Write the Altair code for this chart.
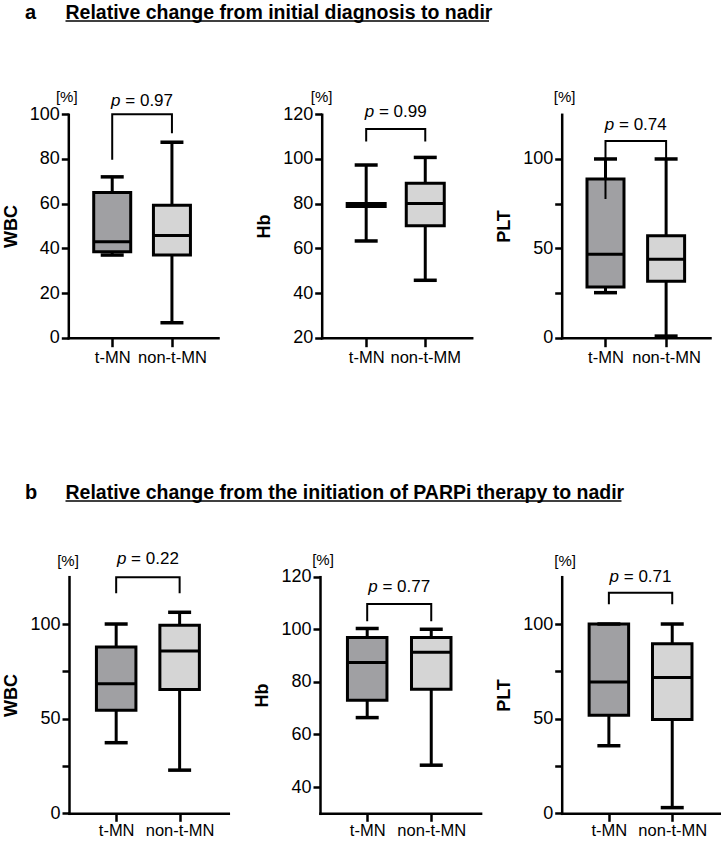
import altair as alt
import pandas as pd

# Category labels per panel
labels_std = ["t-MN", "non-t-MN"]
labels_hb_a = ["t-MN", "non-t-MM"]

# Box-plot summaries: [whisker low, Q1, median, Q3, whisker high]; first row t-MN, second non-t-MN
a_wbc = [[37.0, 38.5, 43.0, 65.0, 72.0], [6.7, 37.0, 45.8, 59.3, 87.5]]
a_hb = [[63.3, 78.7, 79.4, 80.1, 97.3], [45.7, 70.1, 80.1, 89.1, 100.7]]
a_plt = [[25.2, 28.4, 46.7, 88.8, 100.0], [0.9, 31.6, 43.9, 57.0, 100.0]]
b_wbc = [[37.3, 54.5, 68.4, 87.9, 100.0], [22.8, 65.4, 85.8, 99.3, 106.2]]
b_hb = [[66.4, 73.0, 87.4, 96.9, 100.3], [48.3, 77.2, 91.3, 96.9, 100.0]]
b_plt = [[35.7, 51.8, 69.4, 100.0, 100.0], [3.0, 49.5, 71.7, 89.6, 100.0]]

# p values of the group comparison
p_values = ["0.97", "0.99", "0.74", "0.22", "0.77", "0.71"]

# Significance brackets: [left leg end, bar level, right leg end], and level of the p label
brackets = [
    [79.6, 100.0, 91.5],
    [107.8, 113.4, 107.8],
    [77.6, 110.1, 100.0],
    [116.2, 124.7, 116.2],
    [103.1, 109.6, 103.1],
    [110.4, 116.5, 110.4],
]
p_label_level = [106.1, 121.2, 119.0, 134.2, 116.0, 125.0]

# Y-axis domains and ticks
y_domains = [[0, 100], [20, 120], [0, 125], [0, 125], [30, 120], [0, 125]]
y_ticks = [
    [0, 20, 40, 60, 80, 100],
    [20, 40, 60, 80, 100, 120],
    [0, 25, 50, 75, 100],
    [0, 25, 50, 75, 100],
    [40, 60, 80, 100, 120],
    [0, 25, 50, 75, 100],
]
y_label_step = [20, 20, 50, 50, 20, 50]
y_titles = ["WBC", "Hb", "PLT", "WBC", "Hb", "PLT"]

title_a = "Relative change from initial diagnosis to nadir"
title_b = "Relative change from the initiation of PARPi therapy to nadir"

# ---- layout (pixels) ----
W, H = 721, 842
# x0, x1 (axis extent), c1, c2 (category centres), y_top, y_bottom
layouts = [
    (68.3, 218.0, 110.0, 174.0, 114.3, 337.7),
    (321.7, 471.7, 364.0, 427.3, 114.3, 337.7),
    (561.7, 710.0, 603.3, 668.3, 114.3, 337.7),
    (69.0, 228.3, 114.0, 181.7, 576.7, 813.3),
    (320.0, 480.6, 365.0, 433.3, 576.7, 813.3),
    (561.7, 721.0, 606.7, 674.3, 576.7, 813.3),
]
box_sizes = [37, 38, 37, 39.5, 39.5, 39.5]
unit_offsets = [(-6.5, -17.5), (-5, -17.5), (-2, -17.5), (-6, -15.5), (-2, -17), (-1.5, -15.5)]
x_label_pad = [3, 3, 3, 1, 1, 1]
x_tick_len = [9, 9, 9, 8, 8, 8]

FONT = "Liberation Sans"
DARK = "#a0a0a3"
LIGHT = "#d5d5d5"


def panel(i, stats, labels):
    x0, x1, c1, c2, yt, yb = layouts[i]
    step = c2 - c1
    xdom = [1 - (c1 - x0) / step, 2 + (x1 - c2) / step]
    ydom = y_domains[i]

    df = pd.DataFrame({
        "pos": [1, 2],
        "group": labels,
        "lo": [s[0] for s in stats],
        "q1": [s[1] for s in stats],
        "med": [s[2] for s in stats],
        "q3": [s[3] for s in stats],
        "hi": [s[4] for s in stats],
    })

    xscale = alt.Scale(domain=xdom, range=[x0, x1], nice=False, zero=False)
    yscale = alt.Scale(domain=ydom, range=[yb, yt], nice=False, zero=False)
    xaxis = alt.Axis(
        orient="bottom", offset=yb - H, values=[1, 2], title=None,
        labelExpr=f"datum.value == 1 ? '{labels[0]}' : '{labels[1]}'",
        tickSize=x_tick_len[i], labelPadding=x_label_pad[i], labelFontSize=16.5,
    )
    st = y_label_step[i]
    yaxis = alt.Axis(
        orient="left", offset=-x0, values=y_ticks[i], title=y_titles[i],
        labelExpr=f"datum.value % {st} == 0 ? datum.label : ''",
        tickSize=7, labelPadding=2, labelFontSize=18, titlePadding=9,
    )

    def X(f):
        return alt.X(f, type="quantitative", scale=xscale, axis=xaxis)

    def Y(f):
        return alt.Y(f, type="quantitative", scale=yscale, axis=yaxis)

    base = alt.Chart(df)
    whisker = base.mark_rule(color="black", strokeWidth=3).encode(
        x=X("pos"), y=Y("lo"), y2="hi")
    box = base.mark_bar(size=box_sizes[i], stroke="black", strokeWidth=3).encode(
        x=X("pos"), y=Y("q1"), y2="q3",
        fill=alt.Fill("group:N", scale=alt.Scale(domain=labels, range=[DARK, LIGHT]), legend=None),
    )
    median = base.mark_tick(orient="horizontal", size=box_sizes[i], thickness=3, color="black", opacity=1).encode(
        x=X("pos"), y=Y("med"))
    cap_lo = base.mark_tick(orient="horizontal", size=23, thickness=3.5, color="black", opacity=1).encode(
        x=X("pos"), y=Y("lo"))
    cap_hi = base.mark_tick(orient="horizontal", size=23, thickness=3.5, color="black", opacity=1).encode(
        x=X("pos"), y=Y("hi"))

    b = brackets[i]
    df_b = pd.DataFrame({"bx": [1, 1, 2, 2], "by": [b[0], b[1], b[1], b[2]], "k": [0, 1, 2, 3]})
    bracket = alt.Chart(df_b).mark_line(color="black", strokeWidth=2).encode(
        x=X("bx"), y=Y("by"), order="k:Q")

    # "p" in italics followed by "= value"; the pair is centred over the bracket
    df_p = pd.DataFrame({"px": [1.5], "py": [p_label_level[i]], "p": ["p"], "rest": ["= " + p_values[i]]})
    p_it = alt.Chart(df_p).mark_text(align="left", baseline="middle", dx=-31, font=FONT, fontSize=17,
                                     fontStyle="italic", color="black").encode(
        x=X("px"), y=Y("py"), text="p:N")
    p_rest = alt.Chart(df_p).mark_text(align="left", baseline="middle", dx=-16.8, font=FONT, fontSize=17,
                                       color="black").encode(
        x=X("px"), y=Y("py"), text="rest:N")

    ux, uy = unit_offsets[i]
    df_u = pd.DataFrame({"ux": [xdom[0]], "uy": [ydom[1]], "u": ["[%]"]})
    unit = alt.Chart(df_u).mark_text(align="center", baseline="middle", dx=ux, dy=uy, font=FONT,
                                     fontSize=15, color="black").encode(
        x=X("ux"), y=Y("uy"), text="u:N")

    return alt.layer(whisker, box, median, cap_lo, cap_hi, bracket, p_it, p_rest, unit)


panels = [
    panel(0, a_wbc, labels_std),
    panel(1, a_hb, labels_hb_a),
    panel(2, a_plt, labels_std),
    panel(3, b_wbc, labels_std),
    panel(4, b_hb, labels_std),
    panel(5, b_plt, labels_std),
]


def heading(letter, text, baseline_y, underline_end):
    d = pd.DataFrame({"letter": [letter], "text": [text]})
    lt = alt.Chart(d).mark_text(align="left", baseline="alphabetic", font=FONT, fontWeight="bold",
                                fontSize=20, color="black").encode(
        x=alt.value(25), y=alt.value(baseline_y), text="letter:N")
    tt = alt.Chart(d).mark_text(align="left", baseline="alphabetic", font=FONT,
                                fontWeight="bold", fontSize=19.5, color="black").encode(
        x=alt.value(65.5), y=alt.value(baseline_y), text="text:N")
    ul = alt.Chart(d).mark_rule(color="black", strokeWidth=1.5).encode(
        x=alt.value(65.5), x2=alt.value(underline_end), y=alt.value(baseline_y + 2.6))
    return [lt, tt, ul]


chart = alt.layer(
    *panels,
    *heading("a", title_a, 18.5, 489),
    *heading("b", title_b, 498.5, 621.5),
).resolve_scale(x="independent", y="independent", fill="independent").properties(
    width=W, height=H, padding=0, autosize=alt.AutoSizeParams(type="none"),
).configure_view(stroke=None).configure_axis(
    grid=False, domainColor="black", domainWidth=2.5, tickColor="black", tickWidth=2.5,
    labelColor="black", labelFont=FONT, titleFont=FONT, titleFontSize=18, titleFontWeight="bold",
    titleColor="black", domainCap="square",
)

chart.save("out.html", embed_options={"renderer": "svg", "actions": False})
